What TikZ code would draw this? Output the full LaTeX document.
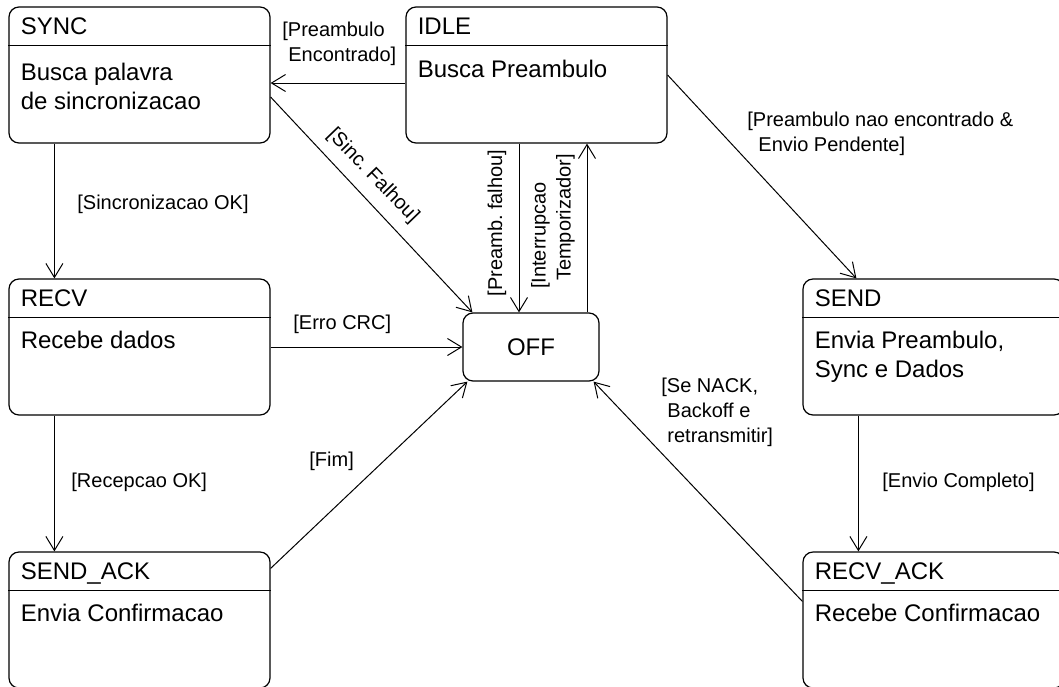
\documentclass[tikz,border=0pt]{standalone}
\usepackage{fontspec}
\setmainfont{Liberation Sans}
\usetikzlibrary{arrows.meta}
\frenchspacing
\begin{document}
\begin{tikzpicture}[x=0.5pt,y=-0.5pt,
 state/.style={draw, rounded corners=5pt, minimum width=130.5pt, minimum height=68pt, inner sep=0pt, line width=0.6pt},
 offst/.style={draw, rounded corners=5pt, minimum width=68pt, minimum height=34pt, inner sep=0pt, line width=0.6pt, font=\fontsize{12}{14.5}\selectfont},
 tr/.style={-{Straight Barb[length=7pt,width=8.5pt]}, line width=0.5pt},
 lbl/.style={font=\fontsize{10}{12.5}\selectfont, inner sep=0pt, align=left},
 stxt/.style={font=\fontsize{12}{14.5}\selectfont, inner sep=0pt, anchor=north west, align=left},
 sep/.style={line width=0.6pt}
]
\useasboundingbox (0,0) rectangle (1059,686);
\fill[white] (0,0) rectangle (1059,686);
\clip (0,0) rectangle (1059,686);

% states
\node[state] (sync) at (139.5,75) {};
\node[state] (idle) at (536.5,75) {};
\node[state] (recv) at (139.5,347) {};
\node[state] (send) at (933.5,347) {};
\node[state] (sendack) at (139.5,620) {};
\node[state] (recvack) at (933.5,620) {};
\node[offst] (off) at (531,347) {OFF};

\foreach \n in {sync,idle,recv,send,sendack,recvack}
  \draw[sep] ([yshift=-19.5pt]\n.north west) -- ([yshift=-19.5pt]\n.north east);

\node[stxt] (sync-h) at ([xshift=6pt,yshift=-5.5pt]sync.north west) {SYNC};
\node[stxt] (sync-b) at ([xshift=6pt,yshift=-28pt]sync.north west) {Busca palavra\\de sincronizacao};
\node[stxt] (idle-h) at ([xshift=6pt,yshift=-5.5pt]idle.north west) {IDLE};
\node[stxt] (idle-b) at ([xshift=6pt,yshift=-26.5pt]idle.north west) {Busca Preambulo};
\node[stxt] (recv-h) at ([xshift=6pt,yshift=-5.5pt]recv.north west) {RECV};
\node[stxt] (recv-b) at ([xshift=6pt,yshift=-26pt]recv.north west) {Recebe dados};
\node[stxt] (send-h) at ([xshift=6pt,yshift=-5.5pt]send.north west) {SEND};
\node[stxt] (send-b) at ([xshift=6pt,yshift=-26pt]send.north west) {Envia Preambulo,\\Sync e Dados};
\node[stxt] (sendack-h) at ([xshift=6pt,yshift=-5.5pt]sendack.north west) {SEND\_ACK};
\node[stxt] (sendack-b) at ([xshift=6pt,yshift=-26pt]sendack.north west) {Envia Confirmacao};
\node[stxt] (recvack-h) at ([xshift=6pt,yshift=-5.5pt]recvack.north west) {RECV\_ACK};
\node[stxt] (recvack-b) at ([xshift=6pt,yshift=-26pt]recvack.north west) {Recebe Confirmacao};

% transitions
\draw[tr] ([yshift=-4pt]idle.west) -- ([yshift=-4pt]sync.east);
\draw[tr] ([yshift=-11pt]sync.east) -- ([xshift=5pt]off.north west);
\coordinate (pf) at ([xshift=-6pt]off.north);
\coordinate (it) at ([xshift=28pt]off.north);
\draw[tr] (pf |- idle.south) -- (pf);
\draw[tr] (it) -- (it |- idle.south);
\draw[tr] (idle.east) -- ([xshift=27pt]send.north west);
\draw[tr] ([xshift=23pt]sync.south west) -- ([xshift=23pt]recv.north west);
\draw[tr] (recv.east) -- (off.west);
\draw[tr] ([xshift=23pt]recv.south west) -- ([xshift=23pt]sendack.north west);
\draw[tr] ([yshift=-8.5pt]sendack.north east) -- ([xshift=2.5pt]off.south west);
\draw[tr] ([xshift=28pt]send.south west) -- ([xshift=28pt]recvack.north west);
\draw[tr] ([yshift=-25pt]recvack.north west) -- ([xshift=-3pt]off.south east);

% labels
\node[lbl, anchor=north west] (l1) at (282,22) {[Preambulo\\\hspace*{0.3em}Encontrado]};
\node[lbl, anchor=north west] (l2) at (747,112) {[Preambulo nao encontrado \&\\\hspace*{0.55em}Envio Pendente]};
\node[lbl, rotate=-46] (l3) at (373,176) {[Sinc. Falhou]};
\node[lbl, rotate=90] (l4) at (497,223) {[Preamb. falhou]};
\node[lbl, rotate=90] (l5) at (553,221.5) {[Interrupcao\\\hspace*{0.4em}Temporizador]};
\node[lbl, anchor=north west] (l6) at (77,195) {[Sincronizacao OK]};
\node[lbl, anchor=north west] (l7) at (293,315) {[Erro CRC]};
\node[lbl, anchor=north west] (l8) at (71,473) {[Recepcao OK]};
\node[lbl, anchor=north west] (l9) at (309,452) {[Fim]};
\node[lbl, anchor=north west] (l10) at (882,473) {[Envio Completo]};
\node[lbl, anchor=north west] (l11) at (661,378) {[Se NACK,\\\hspace*{0.3em}Backoff e\\\hspace*{0.3em}retransmitir]};
\end{tikzpicture}
\end{document}
